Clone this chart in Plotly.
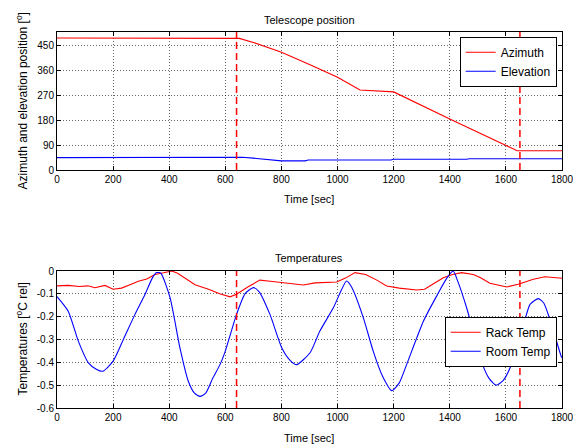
import plotly.graph_objects as go

# ---------------- data ----------------
t_az = [0, 640, 650, 700, 800, 900, 1000, 1080, 1190, 1200, 1400, 1640, 1800]
azimuth = [478, 478, 477, 462, 427, 382, 336, 290, 286, 283, 185, 70, 70]

t_el = [0, 650, 660, 700, 750, 800, 885, 895, 1190, 1200, 1460, 1470, 1800]
elevation = [45, 45, 46, 43, 37, 33, 33, 36, 36, 39, 39, 41, 41]

t_room = [0, 40, 76, 112, 140, 163, 200, 242, 278, 314, 340, 355, 370, 403, 438, 468,
          490, 510, 530, 555, 581, 599, 640, 670, 700, 720, 759, 801, 830, 854, 902, 937,
          985, 1015, 1032, 1050, 1092, 1127, 1160, 1193, 1220, 1246, 1306, 1353, 1390,
          1412, 1430, 1460, 1485, 1514, 1540, 1565, 1590, 1615, 1662, 1686, 1716, 1735,
          1755, 1797, 1800]
room = [-0.112, -0.176, -0.307, -0.402, -0.43, -0.439, -0.395, -0.285, -0.19, -0.102,
        -0.03, -0.007, -0.01, -0.117, -0.336, -0.483, -0.535, -0.549, -0.535, -0.47,
        -0.41, -0.354, -0.19, -0.1, -0.073, -0.09, -0.19, -0.336, -0.39, -0.41, -0.358,
        -0.263, -0.161, -0.08, -0.044, -0.07, -0.205, -0.351, -0.46, -0.524, -0.49,
        -0.41, -0.22, -0.11, -0.03, 0.0, -0.05, -0.161, -0.27, -0.40, -0.47, -0.50,
        -0.48, -0.424, -0.241, -0.146, -0.121, -0.14, -0.205, -0.373, -0.38]

t_rack = [0, 40, 80, 110, 135, 171, 200, 230, 260, 290, 320, 349, 380, 409, 430, 460,
          492, 540, 580, 617, 640, 680, 723, 760, 795, 840, 878, 920, 960, 997, 1030,
          1062, 1100, 1140, 1175, 1220, 1282, 1310, 1329, 1377, 1410, 1442, 1484, 1510,
          1543, 1603, 1644, 1698, 1739, 1770, 1800]
rack = [-0.065, -0.063, -0.068, -0.065, -0.073, -0.063, -0.08, -0.075, -0.06, -0.045,
        -0.035, -0.015, -0.008, 0.0, -0.01, -0.035, -0.06, -0.08, -0.1, -0.113, -0.102,
        -0.07, -0.04, -0.045, -0.05, -0.055, -0.061, -0.052, -0.05, -0.048, -0.03,
        -0.007, -0.015, -0.04, -0.066, -0.075, -0.083, -0.08, -0.066, -0.03, -0.015,
        -0.007, -0.015, -0.03, -0.054, -0.07, -0.058, -0.036, -0.025, -0.03, -0.032]

events = [640, 1650]

pos_ticks = [0, 90, 180, 270, 360, 450]
temp_ticks = [0, -0.1, -0.2, -0.3, -0.4, -0.5, -0.6]
temp_labels = ["0", "-0.1", "-0.2", "-0.3", "-0.4", "-0.5", "-0.6"]
time_ticks = [0, 200, 400, 600, 800, 1000, 1200, 1400, 1600, 1800]

# ---------------- figure ----------------
W, H = 573, 444
FONT = "Liberation Sans, Arial, sans-serif"
RED = "#ff0000"
BLUE = "#0000ff"

fig = go.Figure()
fig.add_trace(go.Scatter(x=t_az, y=azimuth, mode="lines", name="Azimuth",
                         line=dict(color=RED, width=1.1), xaxis="x", yaxis="y",
                         legend="legend"))
fig.add_trace(go.Scatter(x=t_el, y=elevation, mode="lines", name="Elevation",
                         line=dict(color=BLUE, width=1.1), xaxis="x", yaxis="y",
                         legend="legend"))
fig.add_trace(go.Scatter(x=t_rack, y=rack, mode="lines", name="Rack Temp",
                         line=dict(color=RED, width=1.1), xaxis="x2", yaxis="y2",
                         legend="legend2"))
fig.add_trace(go.Scatter(x=t_room, y=room, mode="lines", name="Room Temp",
                         line=dict(color=BLUE, width=1.1, shape="spline", smoothing=0.6),
                         xaxis="x2", yaxis="y2", legend="legend2"))

for ev in events:
    for xr, yr in (("x", "y domain"), ("x2", "y2 domain")):
        fig.add_shape(type="line", xref=xr, yref=yr, x0=ev, x1=ev, y0=0, y1=1,
                      line=dict(color=RED, width=1.5, dash="7px,4px"))

xdom = [57 / W, 562 / W]
axis_common = dict(showline=True, linecolor="black", linewidth=1, mirror="ticks",
                   ticks="inside", ticklen=4, tickcolor="black", showgrid=True,
                   gridcolor="rgba(0,0,0,0.6)", griddash="1px,2px", gridwidth=1,
                   zeroline=False, tickfont=dict(size=10, color="black", family=FONT),
                   automargin=False, ticklabeloverflow="allow")

fig.update_layout(
    width=W, height=H,
    margin=dict(l=0, r=0, t=0, b=0),
    paper_bgcolor="white", plot_bgcolor="white",
    font=dict(family=FONT, color="black", size=11),
    xaxis=dict(domain=xdom, range=[0, 1800], tickvals=time_ticks, anchor="y", **axis_common),
    yaxis=dict(domain=[1 - 170 / H, 1 - 32 / H], range=[0, 500], tickvals=pos_ticks,
               anchor="x", **axis_common),
    xaxis2=dict(domain=xdom, range=[0, 1800], tickvals=time_ticks, anchor="y2", **axis_common),
    yaxis2=dict(domain=[1 - 408 / H, 1 - 271 / H], range=[-0.6, 0], tickvals=temp_ticks,
                ticktext=temp_labels, anchor="x2", **axis_common),
    legend=dict(x=556.7 / W, y=1 - 36.7 / H, xanchor="right", yanchor="top",
                bgcolor="white", bordercolor="black", borderwidth=1,
                font=dict(size=12, family=FONT), itemwidth=30),
    legend2=dict(x=556.7 / W, y=1 - 316.7 / H, xanchor="right", yanchor="top",
                 bgcolor="white", bordercolor="black", borderwidth=1,
                 font=dict(size=12, family=FONT), itemwidth=30),
    showlegend=True,
)

ann = [
    dict(text="Telescope position", x=309.5 / W, y=1 - 20 / H, size=11),
    dict(text="Temperatures", x=309.5 / W, y=1 - 258.3 / H, size=11),
    dict(text="Time [sec]", x=309.5 / W, y=1 - 199.3 / H, size=11),
    dict(text="Time [sec]", x=309.5 / W, y=1 - 438.3 / H, size=11),
    dict(text="Azimuth and elevation position [<sup>o</sup>]", x=21.5 / W, y=1 - 101 / H,
         textangle=-90, size=12),
    dict(text="Temperatures [<sup>o</sup>C rel]", x=21 / W, y=1 - 339.5 / H,
         textangle=-90, size=12),
]
for a in ann:
    size = a.pop("size")
    fig.add_annotation(xref="paper", yref="paper", showarrow=False,
                       xanchor="center", yanchor="middle",
                       font=dict(size=size, family=FONT, color="black"), **a)

fig.write_html("out.html")
